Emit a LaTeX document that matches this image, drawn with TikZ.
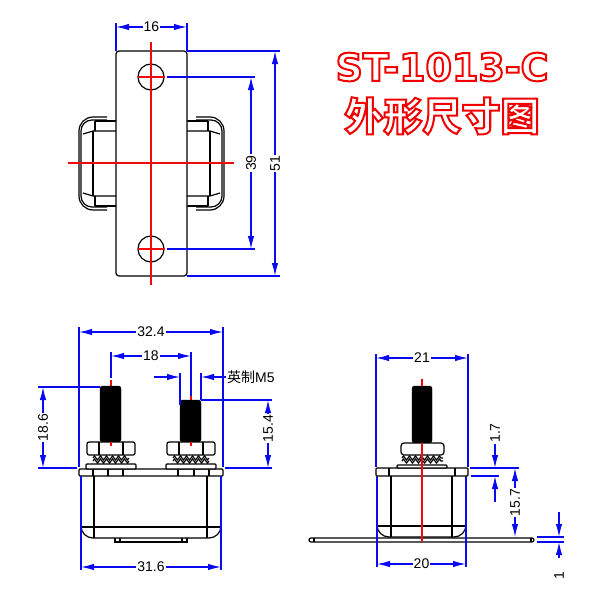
\documentclass[tikz,border=0pt]{standalone}
\usepackage{fontspec}
\setmainfont{Liberation Sans}
\newfontfamily\cjk{Noto Sans CJK SC}
\newfontfamily\cjkheavy{Noto Sans CJK SC Black}
\newfontfamily\titlefont{DejaVu Sans}
\usetikzlibrary{decorations.pathmorphing,arrows.meta}
\definecolor{dimblue}{RGB}{10,10,240}
\definecolor{cenred}{RGB}{240,10,10}
\tikzset{
  part/.style={draw=black,line width=1.2pt},
  cenline/.style={draw=cenred,line width=1.2pt},
  dimline/.style={draw=dimblue,line width=1.2pt,{Latex[length=13pt,width=6.5pt]}-{Latex[length=13pt,width=6.5pt]}},
  dimhead/.style={draw=dimblue,line width=1.2pt,-{Latex[length=13pt,width=6.5pt]}},
  extline/.style={draw=dimblue,line width=1.2pt},
  dimlabel/.style={fill=white,inner sep=1pt,font=\fontsize{14}{15}\selectfont},
  titlelabel/.style={text=white,inner sep=0pt},
  zigline/.style={part,decorate,decoration={zigzag,segment length=6pt,amplitude=2pt}}
}
\newcommand{\outlined}[1]{\special{pdf:code q 2 Tr 2 w 0.95 0 0 RG}#1\special{pdf:code Q}}
\begin{document}
\begin{tikzpicture}[x=1pt,y=-1pt]
\useasboundingbox (0,0) rectangle (600,600);

% Title
\node[titlelabel] (title) at (442,67) {\titlefont\bfseries\fontsize{38}{40}\selectfont\outlined{ST-1013-C}};
\node[titlelabel] (subtitle) at (442,116) {\cjkheavy\fontsize{39}{41}\selectfont\outlined{外形尺寸图}};

% Top view: side wings behind the plate
\foreach \s in {-1,1} {
\begin{scope}[shift={(151.5,0)},xscale=\s]
\draw[part] (44.5,117) -- (58.5,117) arc[start angle=-90,end angle=0,radius=14] -- (72.5,196) arc[start angle=0,end angle=90,radius=14] -- (44.5,210);
\draw[part] (44.5,120) -- (59.5,120) arc[start angle=-90,end angle=0,radius=11] -- (70.5,196) arc[start angle=0,end angle=90,radius=11] -- (44.5,207);
\draw[part] (35.5,121) -- (56.5,121) (35.5,206) -- (56.5,206);
\draw[part] (35.5,131) -- (58.5,131) -- (68.5,134) (35.5,196) -- (58.5,196) -- (68.5,193);
\draw[part] (56.5,121) -- (56.5,131) (56.5,196) -- (56.5,206);
\draw[part] (58.5,131) -- (58.5,196);
\end{scope}
}
% Top view: plate and holes
\draw[part,fill=white,rounded corners=3pt] (116,51) rectangle (187,276);
\draw[part] (151,77) circle (13);
\draw[part] (151,249) circle (13);
\draw[cenline] (151,42) -- (151,285);
\draw[cenline] (68,163) -- (234,163);
\draw[cenline] (138,77) -- (165,77);
\draw[cenline] (138,249) -- (165,249);

% Top view: dimensions
\draw[extline] (116,23) -- (116,51);
\draw[extline] (187,23) -- (187,51);
\draw[dimline] (116,27) -- node[dimlabel] (w16) {16} (187,27);
\draw[extline] (187,51) -- (280,51);
\draw[extline] (187,276) -- (280,276);
\draw[dimline] (275,51) -- node[dimlabel,rotate=90] (h51) {51} (275,276);
\draw[extline] (167,77) -- (255,77);
\draw[extline] (167,249) -- (255,249);
\draw[dimline] (251,77) -- node[dimlabel,rotate=90] (h39) {39} (251,249);

% Front view: body
\draw[part,fill=white] (81,476) -- (81,526) arc[start angle=180,end angle=90,radius=12] -- (209,538) arc[start angle=90,end angle=0,radius=12] -- (221,476);
\draw[part] (94,476) -- (94,538);
\draw[part] (207,476) -- (207,538);
\draw[part] (81,527) -- (221,527);
\draw[part] (115,538) -- (115,542) -- (187,542) -- (187,538);
\draw[part] (120,538) -- (120,542);
\draw[part] (182,538) -- (182,542);
\draw[part,rounded corners=1pt] (79,469) rectangle (223,476);
\foreach \xd in {93,108,123,178,194,209}
  \draw[part] (\xd,469) -- (\xd,476);

% Front view: bolts, nuts and washers
\foreach \cx/\ytop in {111/386,191/400} {
\draw[cenline] (\cx,\ytop-6) -- (\cx,\ytop);
\draw[black,fill=black,rounded corners=2.5pt] (\cx-11,442) -- (\cx-11,\ytop) -- (\cx+10,\ytop) -- (\cx+10,442) -- cycle;
\draw[part,fill=white,rounded corners=2pt] (\cx-24,442) rectangle (\cx+24,455);
\draw[part] (\cx-12,442) -- (\cx-12,455);
\draw[part] (\cx+12,442) -- (\cx+12,455);
\draw[cenline] (\cx,442) -- (\cx,446);
\draw[zigline] (\cx-18,458) -- (\cx+18,458);
\draw[zigline] (\cx-18,461) -- (\cx+18,461);
\draw[part,fill=white,rounded corners=1pt] (\cx-25,464) rectangle (\cx+25,469);
}

% Front view: dimensions
\draw[extline] (79,327) -- (79,467);
\draw[extline] (223,327) -- (223,467);
\draw[dimline] (79,332) -- node[dimlabel] (w324) {32.4} (223,332);
\draw[extline] (111,352) -- (111,378);
\draw[extline] (191,352) -- (191,396);
\draw[dimline] (111,356) -- node[dimlabel] (w18) {18} (191,356);
\draw[extline] (180,373) -- (180,405);
\draw[extline] (201,373) -- (201,400);
\draw[dimhead] (154,377) -- (180,377);
\node[inner sep=1pt,anchor=west] (m5) at (226,377) {\fontsize{14}{15}\selectfont{\cjk 英制}M5};
\draw[dimhead] (m5.west) -- (201,377);
\draw[extline] (38,387) -- (100,387);
\draw[extline] (38,468) -- (77,468);
\draw[dimline] (43,387) -- node[dimlabel,rotate=90] (h186) {18.6} (43,468);
\draw[extline] (201,400) -- (272,400);
\draw[extline] (225,468) -- (272,468);
\draw[dimline] (268,400) -- node[dimlabel,rotate=90,pos=0.42] (h154) {15.4} (268,468);
\draw[extline] (81,476) -- (81,570);
\draw[extline] (221,476) -- (221,570);
\draw[dimline] (81,567) -- node[dimlabel] (w316) {31.6} (221,567);

% Side view: body and mounting plate
\draw[part,rounded corners=2pt] (309,538) rectangle (534,542);
\draw[part] (314,538) -- (314,542);
\draw[part] (531,538) -- (531,542);
\draw[part,fill=white] (377,476) -- (377,525) arc[start angle=180,end angle=90,radius=12] -- (454,537) arc[start angle=90,end angle=0,radius=12] -- (466,476);
\draw[part] (391,476) -- (391,537);
\draw[part] (452,476) -- (452,537);
\draw[part] (377,526) -- (466,526);
\draw[part,rounded corners=1pt] (376,468) rectangle (468,476);
\draw[part] (389,468) -- (389,476);
\draw[part] (455,468) -- (455,476);
% Side view: bolt, nut and washers
\draw[black,fill=black,rounded corners=2.5pt] (412,443) -- (412,386) -- (432,386) -- (432,443) -- cycle;
\draw[part,fill=white,rounded corners=3pt] (401,443) rectangle (444,455);
\draw[zigline] (402,458) -- (443,458);
\draw[zigline] (402,461) -- (443,461);
\draw[part,fill=white,rounded corners=1pt] (397,465) rectangle (447,468);
\draw[cenline] (422,379) -- (422,386);
\draw[cenline] (422,443) -- (422,542);

% Side view: dimensions
\draw[extline] (376,354) -- (376,467);
\draw[extline] (468,354) -- (468,467);
\draw[dimline] (376,358) -- node[dimlabel] (w21) {21} (468,358);
\draw[extline] (377,477) -- (377,567);
\draw[extline] (466,477) -- (466,567);
\draw[dimline] (377,564) -- node[dimlabel] (w20) {20} (466,564);
\draw[extline] (470,468) -- (519,468);
\draw[extline] (471,476) -- (499,476);
\node[dimlabel,rotate=90] (h17) at (495,433) {1.7};
\draw[dimhead] (h17.west) -- (495,468);
\coordinate (a17) at (495,502);
\draw[dimhead] (a17) -- (495,476);
\draw[dimline] (515,468) -- node[dimlabel,rotate=90] (h157) {15.7} (515,537);
\draw[extline] (537,537) -- (564,537);
\draw[extline] (537,542) -- (564,542);
\coordinate (a1) at (559,512);
\draw[dimhead] (a1) -- (559,537);
\coordinate (b1) at (559,558);
\draw[dimhead] (b1) -- (559,542);
\node[dimlabel,rotate=90] (h1) at (559,576) {1};
\end{tikzpicture}
\end{document}
